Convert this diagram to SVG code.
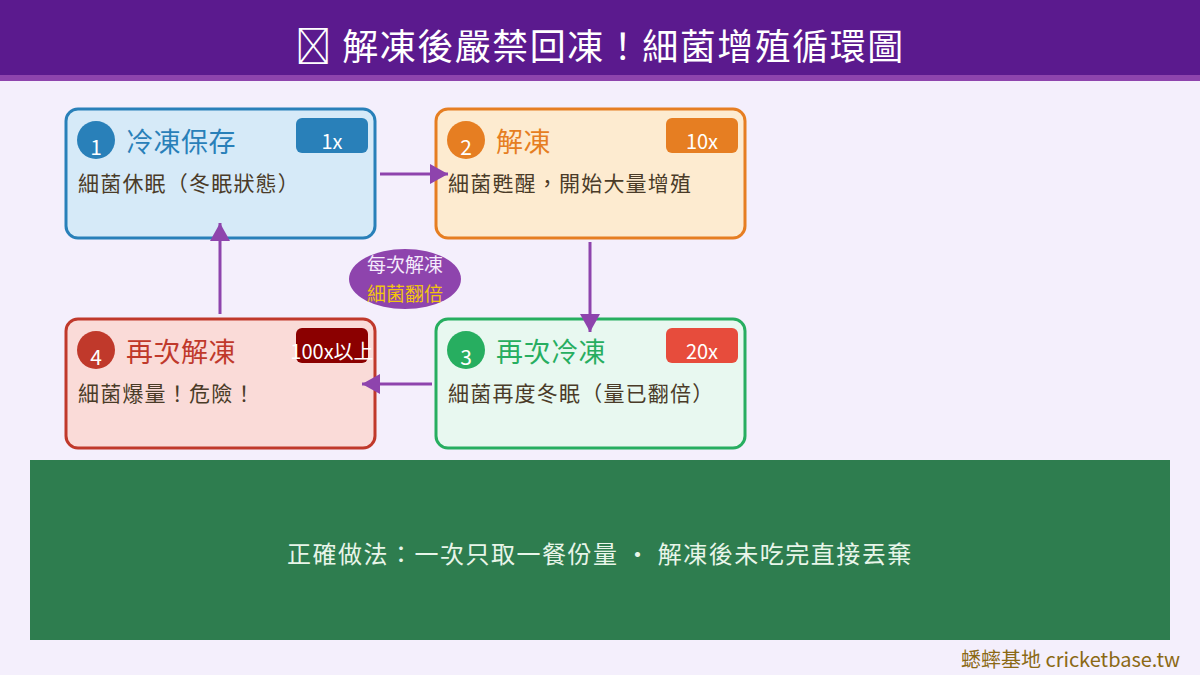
<svg xmlns="http://www.w3.org/2000/svg" width="1200" height="675" viewBox="0 0 1200 675">
<defs>
<style>
text{font-family:"Noto Sans CJK TC","Noto Sans CJK SC","Noto Sans",sans-serif;}
.box{stroke-width:3}
.num{fill:#fff;font-size:21px;text-anchor:middle}
.ttl{font-size:27px;letter-spacing:0.5px}
.bdg{fill:#fff;font-size:20px;text-anchor:middle}
.desc{fill:#4a3b28;font-size:21px;letter-spacing:1.2px}
.con{stroke:#8E44AD;stroke-width:3;fill:none;marker-end:url(#ah)}
</style>
<marker id="ah" viewBox="0 0 18 20" refX="18" refY="10" markerWidth="18" markerHeight="20" orient="auto" markerUnits="userSpaceOnUse">
<path d="M0,0 L18,10 L0,20 z" fill="#8E44AD"/>
</marker>
</defs>
<rect x="0" y="0" width="1200" height="675" fill="#F4EFFC"/>
<g id="header">
<rect x="0" y="0" width="1200" height="75" fill="#5B1A8E"/>
<rect x="0" y="75" width="1200" height="6" fill="#8E44AD"/>
<text x="600" y="60" font-size="36" letter-spacing="1.5" fill="#fff" text-anchor="middle">&#xE000; 解凍後嚴禁回凍！細菌增殖循環圖</text>
</g>
<g id="node1">
<rect class="box" x="66" y="109" width="309" height="129" rx="12" fill="#D6EAF8" stroke="#2980B9"/>
<circle cx="96" cy="140" r="19" fill="#2980B9"/>
<text class="num" x="96" y="155">1</text>
<text class="ttl" x="126" y="152" fill="#2980B9">冷凍保存</text>
<rect x="296" y="118" width="72" height="35" rx="6" fill="#2980B9"/>
<text class="bdg" x="332" y="149">1x</text>
<text class="desc" x="78" y="191">細菌休眠（冬眠狀態）</text>
</g>
<g id="node2">
<rect class="box" x="436" y="109" width="309" height="129" rx="12" fill="#FDEBD0" stroke="#E67E22"/>
<circle cx="466" cy="140" r="19" fill="#E67E22"/>
<text class="num" x="466" y="155">2</text>
<text class="ttl" x="496" y="152" fill="#E67E22">解凍</text>
<rect x="666" y="118" width="72" height="35" rx="6" fill="#E67E22"/>
<text class="bdg" x="702" y="149">10x</text>
<text class="desc" x="448" y="191">細菌甦醒，開始大量增殖</text>
</g>
<g id="node3">
<rect class="box" x="436" y="319" width="309" height="129" rx="12" fill="#E8F8F0" stroke="#27AE60"/>
<circle cx="466" cy="350" r="19" fill="#27AE60"/>
<text class="num" x="466" y="365">3</text>
<text class="ttl" x="496" y="362" fill="#27AE60">再次冷凍</text>
<rect x="666" y="328" width="72" height="35" rx="6" fill="#E74C3C"/>
<text class="bdg" x="702" y="359">20x</text>
<text class="desc" x="448" y="401">細菌再度冬眠（量已翻倍）</text>
</g>
<g id="node4">
<rect class="box" x="66" y="319" width="309" height="129" rx="12" fill="#FADBD8" stroke="#C0392B"/>
<circle cx="96" cy="350" r="19" fill="#C0392B"/>
<text class="num" x="96" y="365">4</text>
<text class="ttl" x="126" y="362" fill="#C0392B">再次解凍</text>
<rect x="296" y="328" width="72" height="35" rx="6" fill="#8B0000"/>
<text class="bdg" x="332" y="359">100x以上</text>
<text class="desc" x="78" y="401">細菌爆量！危險！</text>
</g>
<g id="connectors">
<line class="con" x1="380" y1="174" x2="448" y2="174"/>
<line class="con" x1="590" y1="242" x2="590" y2="332"/>
<line class="con" x1="432" y1="384" x2="362" y2="384"/>
<line class="con" x1="220" y1="314" x2="220" y2="223"/>
</g>
<g id="cycle-label">
<ellipse cx="405" cy="279" rx="56" ry="30" fill="#8E44AD"/>
<text x="405" y="272" font-size="19" fill="#F4EAFB" text-anchor="middle">每次解凍</text>
<text x="405" y="301" font-size="19" fill="#F1C40F" text-anchor="middle">細菌翻倍</text>
</g>
<g id="tip">
<rect x="30" y="460" width="1140" height="180" fill="#2E7D4F"/>
<text x="600" y="563" font-size="24" letter-spacing="1.5" fill="#E8F5E9" text-anchor="middle">正確做法：一次只取一餐份量 · 解凍後未吃完直接丟棄</text>
</g>
<g id="footer">
<text x="1180" y="667" font-size="20" fill="#8B6914" text-anchor="end">蟋蟀基地 cricketbase.tw</text>
</g>
</svg>
